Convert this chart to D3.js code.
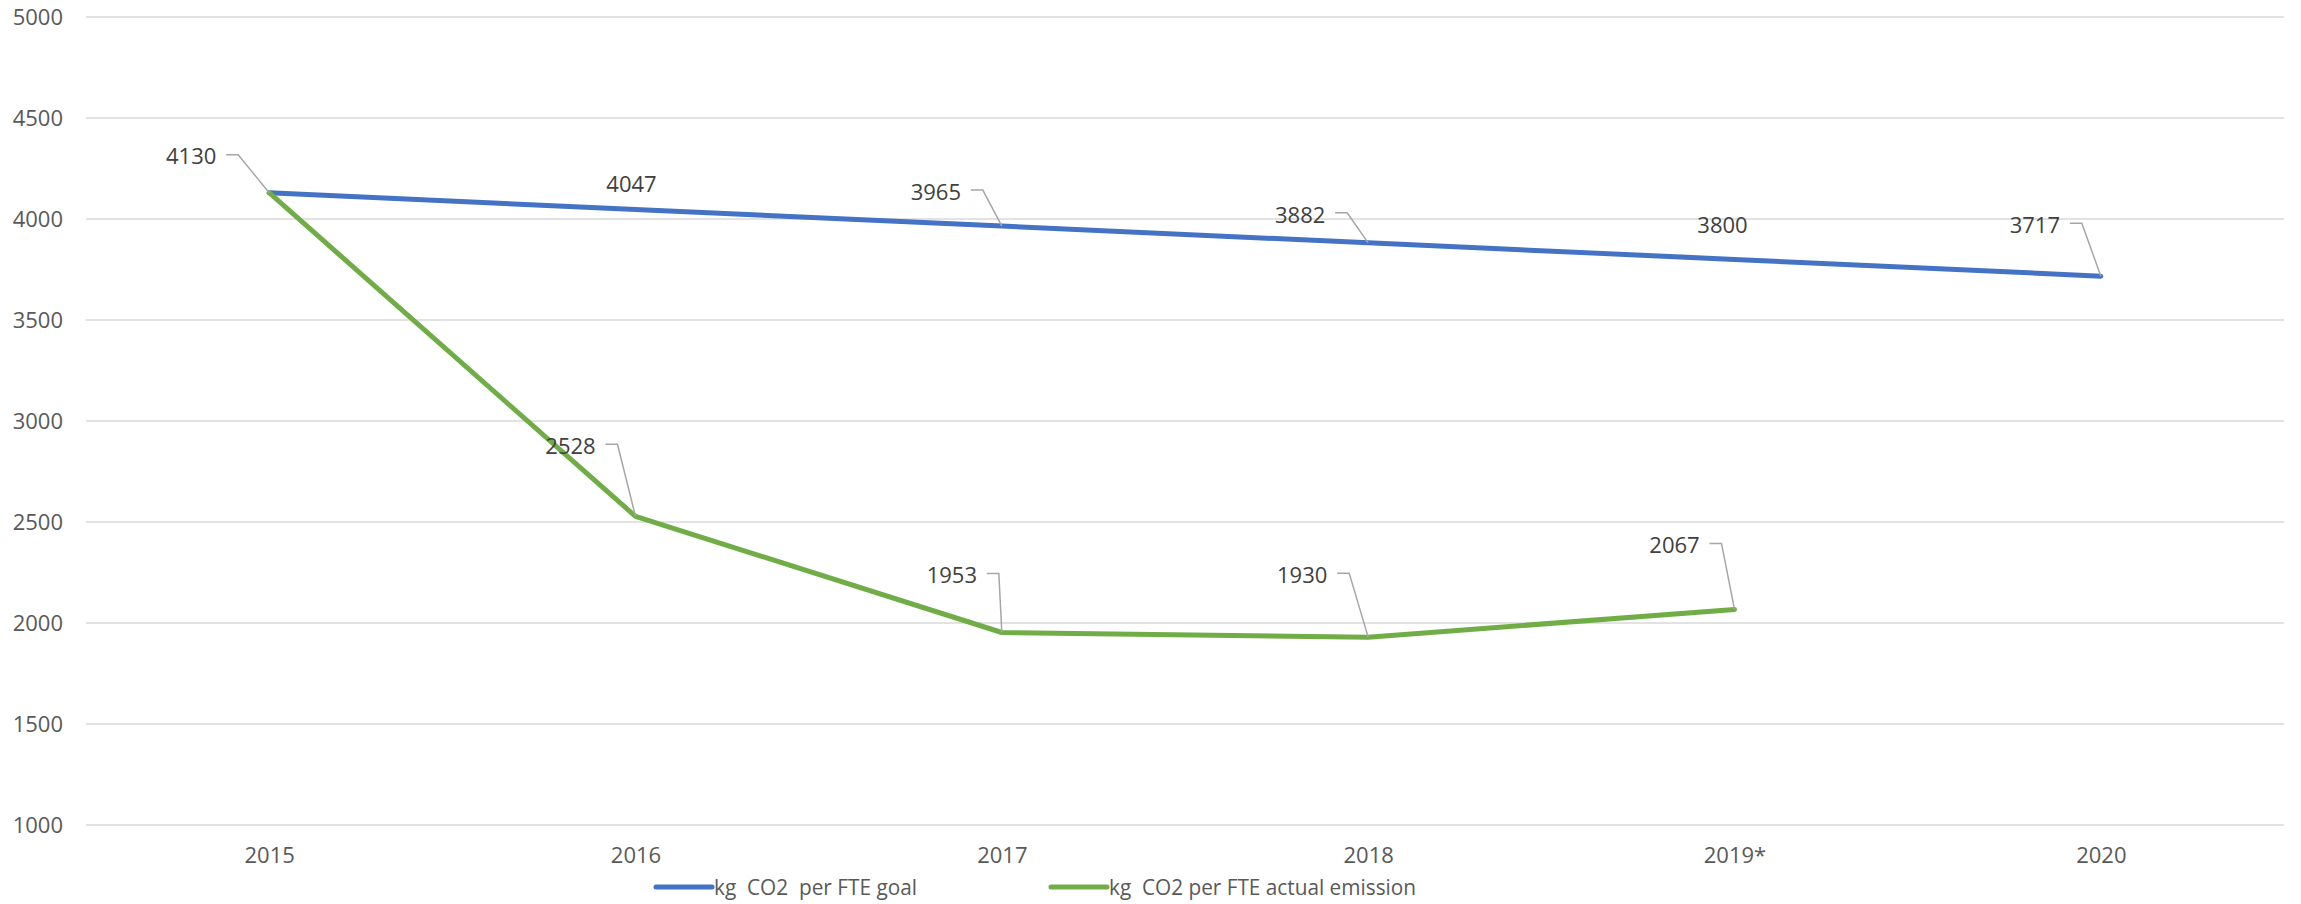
<!DOCTYPE html>
<html>
<head>
<meta charset="utf-8">
<script src="https://cdn.jsdelivr.net/npm/d3@7"></script>
<style>
  body { margin: 0; background: #fff; }
  text { font-family: "Open Sans", sans-serif; }
</style>
</head>
<body>
<script>
// chart data
var years = ["2015", "2016", "2017", "2018", "2019*", "2020"];
var goalValues = [4130, 4047, 3965, 3882, 3800, 3717];
var actualValues = [4130, 2528, 1953, 1930, 2067, null];
var yTicks = [1000, 1500, 2000, 2500, 3000, 3500, 4000, 4500, 5000];
var seriesNames = ["kg  CO2  per FTE goal", "kg  CO2 per FTE actual emission"];

// where the data labels sit relative to their point (px), and whether they get a leader line
var goalLabelDx = [-78, -4, -66, -68, -12, -66];
var goalLabelDy = [-36, -25, -34, -28, -34, -51];
var goalLeader = [true, false, true, true, false, true];
var actualLabelDx = [null, -65, -50, -66, -60, null];
var actualLabelDy = [null, -70, -57, -62, -64, null];
var actualLeader = [false, true, true, true, true, false];

var width = 2301, height = 904;
var blue = "#4472C4", green = "#70AD47";

var svg = d3.select("body").append("svg")
    .attr("width", width)
    .attr("height", height);

var x = d3.scalePoint()
    .domain(years)
    .range([86, 2284])
    .padding(0.5);

var y = d3.scaleLinear()
    .domain([1000, 5000])
    .range([825, 17]);

// gridlines
svg.append("g").selectAll("line")
    .data(yTicks)
    .enter().append("line")
    .attr("x1", 86).attr("x2", 2284)
    .attr("y1", function(d) { return y(d); })
    .attr("y2", function(d) { return y(d); })
    .attr("stroke", "#d9d9d9")
    .attr("stroke-width", 1.5);

// y axis, labels only
var yAxis = svg.append("g")
    .attr("transform", "translate(86,0)")
    .call(d3.axisLeft(y).tickValues(yTicks).tickFormat(d3.format("d")).tickSize(0).tickPadding(23));
yAxis.select(".domain").remove();
yAxis.selectAll("text")
    .attr("font-size", "22px")
    .attr("font-family", "Open Sans")
    .attr("fill", "#595959");

// x axis, labels only
var xAxis = svg.append("g")
    .attr("transform", "translate(0,843)")
    .call(d3.axisBottom(x).tickSize(0).tickPadding(0));
xAxis.select(".domain").remove();
xAxis.selectAll("text")
    .attr("font-size", "22px")
    .attr("font-family", "Open Sans")
    .attr("fill", "#595959")
    .attr("dy", "0.9em");

var line = d3.line()
    .defined(function(d) { return d.v != null; })
    .x(function(d) { return x(d.year); })
    .y(function(d) { return y(d.v); });

function rows(values) {
    return years.map(function(yr, i) { return { year: yr, v: values[i], i: i }; });
}

svg.append("path")
    .datum(rows(goalValues))
    .attr("d", line)
    .attr("fill", "none")
    .attr("stroke", blue)
    .attr("stroke-width", 5)
    .attr("stroke-linecap", "round")
    .attr("stroke-linejoin", "round");

svg.append("path")
    .datum(rows(actualValues))
    .attr("d", line)
    .attr("fill", "none")
    .attr("stroke", green)
    .attr("stroke-width", 5)
    .attr("stroke-linecap", "round")
    .attr("stroke-linejoin", "round");

// data labels with leader lines
function addLabels(values, dxs, dys, leaders) {
    var g = svg.append("g");
    rows(values).forEach(function(d) {
        if (d.v == null || dxs[d.i] == null) return;
        var px = x(d.year), py = y(d.v);
        var lx = px + dxs[d.i], ly = py + dys[d.i];
        if (leaders[d.i]) {
            var sx = lx + 35;
            g.append("path")
                .attr("d", "M" + sx + "," + (ly - 2) + "H" + (sx + 12) + "L" + px + "," + py)
                .attr("fill", "none")
                .attr("stroke", "#a6a6a6")
                .attr("stroke-width", 1.5);
        }
        g.append("text")
            .attr("x", lx)
            .attr("y", ly)
            .attr("dy", "0.35em")
            .attr("text-anchor", "middle")
            .attr("font-size", "22px")
            .attr("fill", "#404040")
            .text(d.v);
    });
}
addLabels(goalValues, goalLabelDx, goalLabelDy, goalLeader);
addLabels(actualValues, actualLabelDx, actualLabelDy, actualLeader);

// legend
var legendX = [656, 1051];
var legendW = [203, 307];
var colours = [blue, green];
var legend = svg.append("g");
seriesNames.forEach(function(name, i) {
    legend.append("line")
        .attr("x1", legendX[i]).attr("x2", legendX[i] + 56)
        .attr("y1", 887).attr("y2", 887)
        .attr("stroke", colours[i])
        .attr("stroke-width", 5)
        .attr("stroke-linecap", "round");
    legend.append("text")
        .attr("x", legendX[i] + 58)
        .attr("y", 887)
        .attr("dy", "0.35em")
        .attr("font-size", "22px")
        .attr("fill", "#595959")
        .attr("textLength", legendW[i])
        .attr("lengthAdjust", "spacingAndGlyphs")
        .style("white-space", "pre")
        .text(name);
});
</script>
</body>
</html>
